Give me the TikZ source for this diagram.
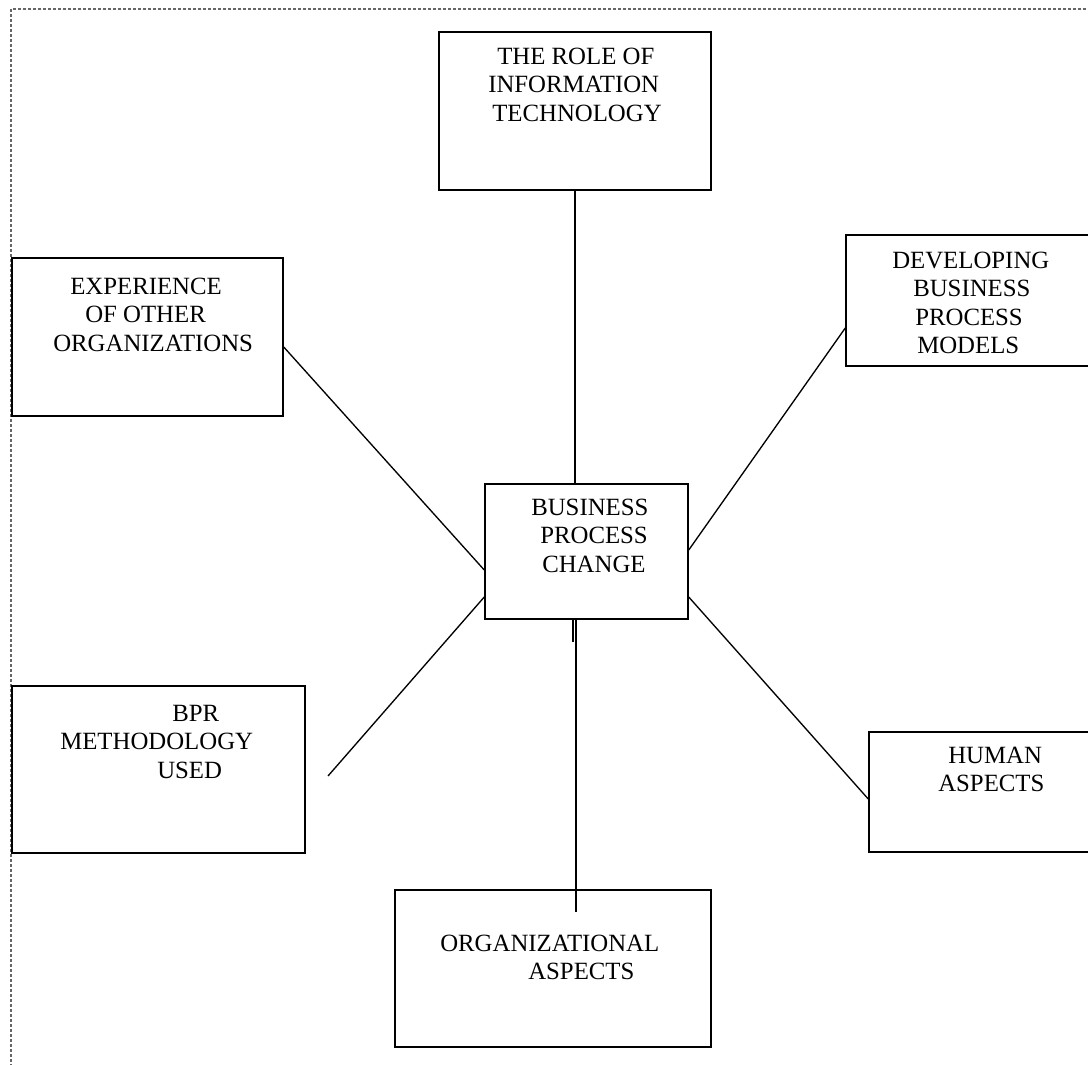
\documentclass[tikz,border=0pt]{standalone}
\usepackage{fontspec}
\setmainfont{Liberation Serif}
\usetikzlibrary{fit}
\begin{document}
\begin{tikzpicture}[x=0.75pt,y=-0.75pt,
  box/.style={draw=black,line width=1.1pt,inner sep=0pt,fill=none},
  lbl/.style={inner sep=0pt,anchor=north west,align=left,font=\fontsize{18.6pt}{21.2pt}\selectfont},
  conn/.style={draw=black,line width=1pt},
  frame/.style={draw=black!60,line width=0.8pt,dash pattern=on 2.25pt off 1.5pt}]
\clip (0,0) rectangle (1088,1064);
\fill[white] (0,0) rectangle (1088,1064);
\draw[frame] (11,9) rectangle (1110,1090);
% boxes
\node[box,fit={(439,32) (711,190)}] (it) {};
\node[box,fit={(485,484) (688,619)}] (center) {};
\node[box,fit={(12,258) (283,416)}] (exp) {};
\node[box,fit={(846,235) (1095,366)}] (dev) {};
\node[box,fit={(12,686) (305,853)}] (bpr) {};
\node[box,fit={(869,732) (1095,852)}] (human) {};
\node[box,fit={(395,890) (711,1047)}] (org) {};
% labels
\node[lbl] (itl) at (488,48) {\hspace*{6.75pt}THE ROLE OF\\INFORMATION\\\hspace*{3pt}TECHNOLOGY};
\node[lbl] (expl) at (53,278) {\hspace*{12.75pt}EXPERIENCE\\\hspace*{24pt}OF OTHER\\ORGANIZATIONS};
\node[lbl] (devl) at (892,252) {DEVELOPING\\\hspace*{15.75pt}BUSINESS\\\hspace*{17.25pt}PROCESS\\\hspace*{18.75pt}MODELS};
\node[lbl] (centerl) at (531,499) {BUSINESS\\\hspace*{6.75pt}PROCESS\\\hspace*{8.25pt}CHANGE};
\node[lbl] (bprl) at (60,705) {\hspace*{84pt}BPR\\METHODOLOGY\\\hspace*{72.75pt}USED};
\node[lbl] (humanl) at (938,747) {\hspace*{7.5pt}HUMAN\\ASPECTS};
\node[lbl] (orgl) at (440,935) {ORGANIZATIONAL\\\hspace*{66pt}ASPECTS};
% connectors
\coordinate (bprend) at (328,776);
\coordinate (orgend) at (576,912);
\coordinate (tick) at (573,642);
\draw[conn] (it.south) -- (it.south |- center.north);
\draw[conn] (exp.east |- 0,347) -- (center.west |- 0,570);
\draw[conn] (dev.west |- 0,328) -- (center.east |- 0,550);
\draw[conn] (bprend) -- (center.west |- 0,597);
\draw[conn] (center.east |- 0,597) -- (human.west |- 0,799);
\draw[conn] (center.south -| orgend) -- (orgend);
\draw[conn,line width=1.3pt] (center.south -| tick) -- (tick);
\end{tikzpicture}
\end{document}
